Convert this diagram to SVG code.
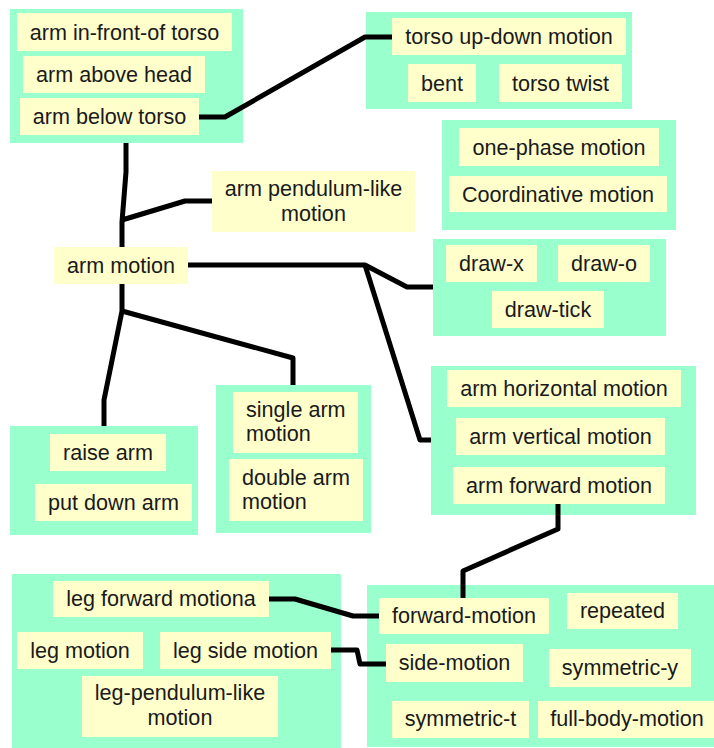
<svg xmlns="http://www.w3.org/2000/svg" width="714" height="748" viewBox="0 0 714 748">
<style>
.grp{fill:#99ffcc}
.box{fill:#ffffcc}
text{font-family:"Liberation Sans",Arial,sans-serif;font-size:21.6px;fill:#1a1a1a;text-anchor:middle}
text.l{text-anchor:start}
.conn path{fill:none;stroke:#000;stroke-width:5;stroke-linejoin:round}
</style>
<rect width="714" height="748" fill="#fff"/>
<g id="groupA"><rect class="grp" x="10" y="9" width="233" height="134"/></g>
<g id="groupB"><rect class="grp" x="366" y="12" width="266" height="97"/></g>
<g id="groupC"><rect class="grp" x="442" y="120" width="234" height="110"/></g>
<g id="groupD"><rect class="grp" x="433" y="239" width="233" height="97"/></g>
<g id="groupE"><rect class="grp" x="431" y="366" width="265" height="149"/></g>
<g id="groupF"><rect class="grp" x="10" y="426" width="188" height="109"/></g>
<g id="groupG"><rect class="grp" x="216" y="385" width="155" height="148"/></g>
<g id="groupH"><rect class="grp" x="12" y="574" width="329" height="174"/></g>
<g id="groupI"><rect class="grp" x="367" y="585" width="347" height="162"/></g>

<g class="conn" id="connectors">
<path d="M199,117 L225,117 L365,37 L392,37"/>
<path d="M126,143 L126,172 L122,222 L122,247"/>
<path d="M122,220 L185,201 L212,201"/>
<path d="M188,265 L365,265 L407,287 L433,287"/>
<path d="M365,265 L420,440 L431,440"/>
<path d="M122,284 L122,311 L104,400 L104,426"/>
<path d="M122,311 L293,358 L293,385"/>
<path d="M558,504 L558,529 L463,571 L463,598"/>
<path d="M269,599 L295,599 L353,616 L379,616"/>
<path d="M331,650 L357,650 L360,664 L386,664"/>
</g>

<g id="n-arm-in-front"><rect class="box" x="17" y="13" width="215" height="38"/><text x="124.5" y="40">arm in-front-of torso</text></g>
<g id="n-arm-above-head"><rect class="box" x="23" y="56" width="182" height="37"/><text x="114" y="82">arm above head</text></g>
<g id="n-arm-below-torso"><rect class="box" x="20" y="98" width="179" height="37"/><text x="109.5" y="124">arm below torso</text></g>

<g id="n-torso-updown"><rect class="box" x="392" y="18" width="234" height="37"/><text x="509" y="44">torso up-down motion</text></g>
<g id="n-bent"><rect class="box" x="408" y="64" width="68" height="38"/><text x="442" y="91">bent</text></g>
<g id="n-torso-twist"><rect class="box" x="499" y="64" width="123" height="38"/><text x="560.5" y="91">torso twist</text></g>

<g id="n-one-phase"><rect class="box" x="459" y="128" width="200" height="38"/><text x="559" y="155">one-phase motion</text></g>
<g id="n-coordinative"><rect class="box" x="449" y="176" width="218" height="36"/><text x="558" y="202">Coordinative motion</text></g>

<g id="n-arm-pendulum"><rect class="box" x="212" y="171" width="203" height="61"/><text x="313.5" y="196">arm pendulum-like</text><text x="313.5" y="221">motion</text></g>

<g id="n-arm-motion"><rect class="box" x="54" y="247" width="134" height="37"/><text x="121" y="273">arm motion</text></g>

<g id="n-draw-x"><rect class="box" x="446" y="245" width="91" height="37"/><text x="491.5" y="271">draw-x</text></g>
<g id="n-draw-o"><rect class="box" x="558" y="245" width="92" height="37"/><text x="604" y="271">draw-o</text></g>
<g id="n-draw-tick"><rect class="box" x="492" y="291" width="112" height="37"/><text x="548" y="317">draw-tick</text></g>

<g id="n-arm-horizontal"><rect class="box" x="447" y="370" width="234" height="37"/><text x="564" y="396">arm horizontal motion</text></g>
<g id="n-arm-vertical"><rect class="box" x="456" y="418" width="209" height="37"/><text x="560.5" y="444">arm vertical motion</text></g>
<g id="n-arm-forward"><rect class="box" x="453" y="467" width="212" height="37"/><text x="559" y="493">arm forward motion</text></g>

<g id="n-raise-arm"><rect class="box" x="50" y="434" width="116" height="37"/><text x="108" y="460">raise arm</text></g>
<g id="n-put-down-arm"><rect class="box" x="35" y="484" width="157" height="37"/><text x="113.5" y="510">put down arm</text></g>

<g id="n-single-arm"><rect class="box" x="233" y="392" width="125" height="61"/><text class="l" x="246" y="417">single arm</text><text class="l" x="246" y="441">motion</text></g>
<g id="n-double-arm"><rect class="box" x="229" y="459" width="134" height="62"/><text class="l" x="242" y="485">double arm</text><text class="l" x="242" y="509">motion</text></g>

<g id="n-leg-forward"><rect class="box" x="53" y="581" width="216" height="36"/><text x="161" y="606">leg forward motiona</text></g>
<g id="n-leg-motion"><rect class="box" x="17" y="632" width="126" height="37"/><text x="80" y="658">leg motion</text></g>
<g id="n-leg-side"><rect class="box" x="160" y="632" width="171" height="37"/><text x="245.5" y="658">leg side motion</text></g>
<g id="n-leg-pendulum"><rect class="box" x="82" y="676" width="196" height="61"/><text x="180" y="700">leg-pendulum-like</text><text x="180" y="725">motion</text></g>

<g id="n-forward-motion"><rect class="box" x="379" y="598" width="170" height="36"/><text x="464" y="623">forward-motion</text></g>
<g id="n-repeated"><rect class="box" x="567" y="593" width="111" height="36"/><text x="622.5" y="618">repeated</text></g>
<g id="n-side-motion"><rect class="box" x="386" y="644" width="137" height="38"/><text x="454.5" y="670">side-motion</text></g>
<g id="n-symmetric-y"><rect class="box" x="549" y="649" width="142" height="38"/><text x="620" y="675">symmetric-y</text></g>
<g id="n-symmetric-t"><rect class="box" x="392" y="701" width="137" height="37"/><text x="460.5" y="726">symmetric-t</text></g>
<g id="n-full-body"><rect class="box" x="538" y="701" width="180" height="37"/><text x="627" y="726">full-body-motion</text></g>
</svg>
